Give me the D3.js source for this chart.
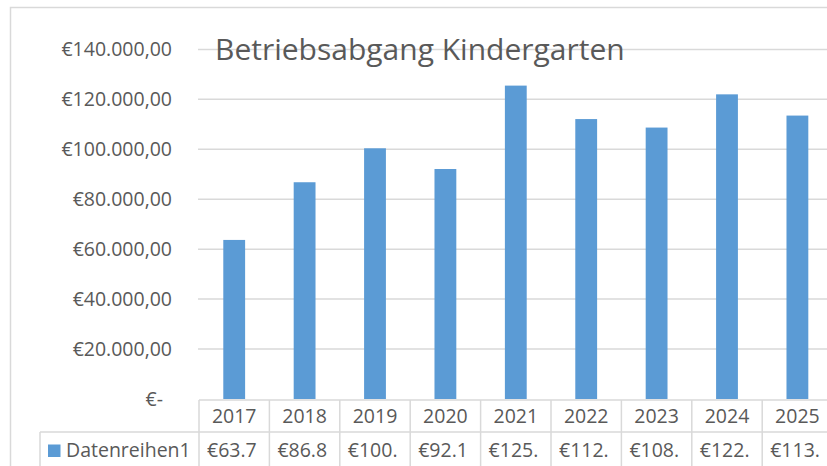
<!DOCTYPE html>
<html>
<head>
<meta charset="utf-8">
<script src="https://cdn.jsdelivr.net/npm/d3@7"></script>
<style>
  html, body { margin: 0; padding: 0; background: #fff; overflow: hidden; }
  svg { display: block; font-family: "Open Sans", sans-serif; }
</style>
</head>
<body>
<svg id="chart"></svg>
<script>
// data
const years = ["2017", "2018", "2019", "2020", "2021", "2022", "2023", "2024", "2025"];
const values = [63700, 86800, 100400, 92100, 125500, 112100, 108700, 122000, 113500];
const yTicks = [0, 20000, 40000, 60000, 80000, 100000, 120000, 140000];
const seriesName = "Datenreihen1";
const title = "Betriebsabgang Kindergarten";

const width = 827, height = 466;
const grey = "#d9d9d9", textColor = "#595959", barColor = "#5b9bd5";

const svg = d3.select("#chart").attr("width", width).attr("height", height);

const de = d3.formatLocale({
    decimal: ",", thousands: ".", grouping: [3], currency: ["€", ""]
});
const euro = de.format("$,.2f");
const fmtTick = v => v === 0 ? "€-" : euro(v);

const x = d3.scaleBand().domain(years).range([199, 199 + 9 * 70.4]).padding(0);
const y = d3.scaleLinear().domain([0, 140000]).range([399, 49.4]);

// outer chart border (cut off on right and bottom)
svg.append("rect")
    .attr("x", 10.5).attr("y", 7.5)
    .attr("width", 900).attr("height", 600)
    .attr("fill", "none").attr("stroke", grey).attr("stroke-width", 1.5);

// gridlines
svg.append("g")
    .selectAll("line")
    .data(yTicks.filter(t => t > 0))
    .enter().append("line")
    .attr("x1", 198).attr("x2", 840)
    .attr("y1", d => y(d)).attr("y2", d => y(d))
    .attr("stroke", grey).attr("stroke-width", 1.5);

// y tick labels
svg.append("g")
    .selectAll("text")
    .data(yTicks)
    .enter().append("text")
    .attr("x", d => d === 0 ? 163 : 172)
    .attr("y", d => y(d))
    .attr("dy", "0.35em")
    .attr("text-anchor", "end")
    .attr("font-size", 19.5)
    .attr("fill", textColor)
    .text(fmtTick);

// bars
const bw = x.bandwidth();
svg.append("g")
    .selectAll("rect")
    .data(years)
    .enter().append("rect")
    .attr("x", (d) => x(d) + bw * 0.345)
    .attr("width", bw * 0.31)
    .attr("y", (d, i) => y(values[i]))
    .attr("height", (d, i) => y(0) - y(values[i]))
    .attr("fill", barColor);

// title (drawn over the gridline)
svg.append("text")
    .attr("x", 215).attr("y", 59.5)
    .attr("font-size", 30)
    .attr("fill", textColor)
    .text(title);

// data table
const table = svg.append("g").attr("stroke", grey).attr("stroke-width", 1.5);
const right = x.range()[1];
table.append("line").attr("x1", 199).attr("x2", right).attr("y1", 400).attr("y2", 400);
table.append("line").attr("x1", 40).attr("x2", right).attr("y1", 432).attr("y2", 432);
table.append("line").attr("x1", 40).attr("x2", 40).attr("y1", 432).attr("y2", 480);
table.selectAll(".vline")
    .data(years.concat(["end"]))
    .enter().append("line")
    .attr("class", "vline")
    .attr("x1", d => d === "end" ? right : x(d))
    .attr("x2", d => d === "end" ? right : x(d))
    .attr("y1", 400).attr("y2", 480);

svg.append("g")
    .selectAll("text")
    .data(years)
    .enter().append("text")
    .attr("x", d => x(d) + bw / 2)
    .attr("y", 423)
    .attr("text-anchor", "middle")
    .attr("font-size", 19.5)
    .attr("fill", textColor)
    .text(d => d);

// legend key + series name
svg.append("rect")
    .attr("x", 48).attr("y", 444.5)
    .attr("width", 12.5).attr("height", 12.5)
    .attr("fill", barColor);
svg.append("text")
    .attr("x", 66).attr("y", 457)
    .attr("font-size", 19.5)
    .attr("fill", textColor)
    .text(seriesName);

// value cells, cut to whole characters that fit the cell
const cells = svg.append("g")
    .selectAll("text")
    .data(years)
    .enter().append("text")
    .attr("x", d => x(d) + 8)
    .attr("y", 457)
    .attr("font-size", 19.5)
    .attr("fill", textColor)
    .text((d, i) => euro(values[i]));

cells.each(function() {
    const el = d3.select(this);
    let s = el.text();
    while (s.length > 1 && this.getComputedTextLength() > bw - 12) {
        s = s.slice(0, -1);
        el.text(s);
    }
});
</script>
</body>
</html>
